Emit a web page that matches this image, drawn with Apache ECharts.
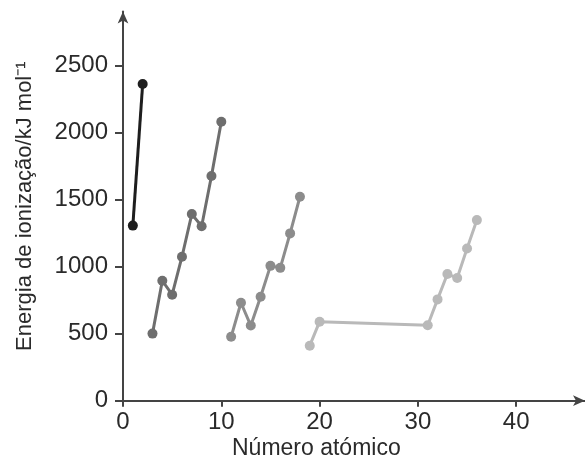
<!DOCTYPE html>
<html>
<head>
<meta charset="utf-8">
<script src="https://cdn.jsdelivr.net/npm/echarts@6/dist/echarts.min.js"></script>
<style>
html,body{margin:0;padding:0;background:#fff;}
#c{width:585px;height:459px;}
</style>
</head>
<body>
<div id="c"></div>
<script>
// Period 1
const period1 = [[1, 1305], [2, 2360]];
// Period 2
const period2 = [[3, 500], [4, 894], [5, 790], [6, 1073], [7, 1391], [8, 1300], [9, 1675], [10, 2079]];
// Period 3
const period3 = [[11, 476], [12, 730], [13, 560], [14, 775], [15, 1005], [16, 990], [17, 1247], [18, 1520]];
// Period 4
const period4 = [[19, 410], [20, 589], [31, 562], [32, 755], [33, 944], [34, 915], [35, 1135], [36, 1346]];

const xTicks = [0, 10, 20, 30, 40];
const yTicks = [0, 500, 1000, 1500, 2000, 2500];
const xName = 'Número atómico';
const yName = 'Energia de ionização/kJ mol⁻¹';

const seriesData = [period1, period2, period3, period4];
const seriesColors = ['#1e1e1e', '#6e6e6e', '#8c8c8c', '#b9b9b9'];

const font = '"Liberation Sans", Arial, sans-serif';
const axisColor = '#444';
const textColor = '#2a2a2a';

const chart = echarts.init(document.getElementById('c'), null, {renderer: 'canvas'});
chart.setOption({
  animation: false,
  backgroundColor: '#fff',
  grid: {left: 123, right: 0, top: 11.6, bottom: 58.3, containLabel: false},
  xAxis: {
    type: 'value', min: 0, max: 47,
    axisLine: {show: true, lineStyle: {color: axisColor, width: 2}, symbol: ['none', 'arrow'], symbolSize: [8, 12]},
    axisTick: {show: true, inside: false, length: 6, lineStyle: {color: axisColor, width: 2}, customValues: xTicks},
    axisLabel: {customValues: xTicks, fontSize: 24, fontFamily: font, color: textColor, margin: 10, formatter: v => String(v)},
    splitLine: {show: false}
  },
  yAxis: {
    type: 'value', min: 0, max: 2900,
    name: yName, nameLocation: 'middle', nameGap: 87,
    nameTextStyle: {fontSize: 22, fontFamily: font, color: textColor},
    axisLine: {show: true, lineStyle: {color: axisColor, width: 2}, symbol: ['none', 'arrow'], symbolSize: [8, 12]},
    axisTick: {show: true, inside: false, length: 8, lineStyle: {color: axisColor, width: 2}, customValues: yTicks},
    axisLabel: {customValues: yTicks, fontSize: 24, fontFamily: font, color: textColor, margin: 15, formatter: v => String(v)},
    splitLine: {show: false}
  },
  graphic: [{
    type: 'text', left: 232, top: 437,
    style: {text: xName, fontSize: 23, fontFamily: font, fill: textColor}
  }],
  series: seriesData.map((d, i) => ({
    type: 'line', data: d,
    symbol: 'circle', symbolSize: 10,
    lineStyle: {color: seriesColors[i], width: 3},
    itemStyle: {color: seriesColors[i]},
    z: 2
  }))
});
</script>
</body>
</html>
